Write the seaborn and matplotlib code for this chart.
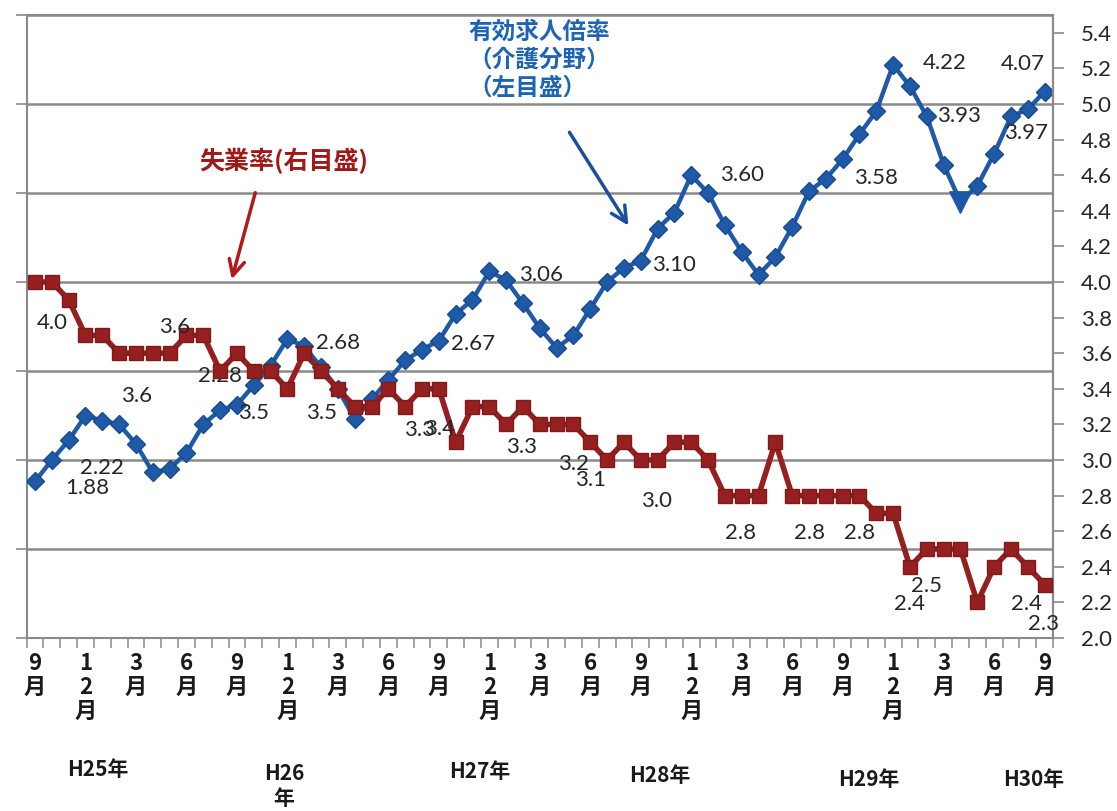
import numpy as np
import pandas as pd
import matplotlib
matplotlib.use("Agg")
import matplotlib.pyplot as plt
import seaborn as sns

# monthly data, 9月 H25 .. 9月 H30
months = list(range(61))
ratio = [1.88, 2.00, 2.11, 2.25, 2.22, 2.20, 2.09, 1.93, 1.95, 2.04,
         2.20, 2.28, 2.31, 2.42, 2.53, 2.68, 2.64, 2.52, 2.40, 2.23,
         2.34, 2.45, 2.56, 2.62, 2.67, 2.82, 2.90, 3.06, 3.01, 2.88,
         2.74, 2.63, 2.70, 2.85, 3.00, 3.08, 3.12, 3.30, 3.39, 3.60,
         3.50, 3.32, 3.17, 3.04, 3.14, 3.31, 3.51, 3.58, 3.69, 3.83,
         3.96, 4.22, 4.10, 3.93, 3.66, 3.45, 3.54, 3.72, 3.93, 3.97,
         4.07]
unemp = [4.0, 4.0, 3.9, 3.7, 3.7, 3.6, 3.6, 3.6, 3.6, 3.7,
         3.7, 3.5, 3.6, 3.5, 3.5, 3.4, 3.6, 3.5, 3.4, 3.3,
         3.3, 3.4, 3.3, 3.4, 3.4, 3.1, 3.3, 3.3, 3.2, 3.3,
         3.2, 3.2, 3.2, 3.1, 3.0, 3.1, 3.0, 3.0, 3.1, 3.1,
         3.0, 2.8, 2.8, 2.8, 3.1, 2.8, 2.8, 2.8, 2.8, 2.8,
         2.7, 2.7, 2.4, 2.5, 2.5, 2.5, 2.2, 2.4, 2.5, 2.4,
         2.3]
tick_labels = ["9月", "12月", "3月", "6月", "9月", "12月", "3月", "6月",
               "9月", "12月", "3月", "6月", "9月", "12月", "3月", "6月",
               "9月", "12月", "3月", "6月", "9月"]
year_labels = ["H25年", "H26\n年", "H27年", "H28年", "H29年", "H30年"]

# data labels: (index, text, dx px, dy px)
ratio_labels = [(0, "1.88", 52, -7), (3, "2.22", 16, -52), (12, "2.28", -17, 29),
                (15, "2.68", 51, -4), (24, "2.67", 34, -3), (27, "3.06", 52, -4),
                (36, "3.10", 33, -4), (39, "3.60", 51, 0), (48, "3.58", 33, -19),
                (51, "4.22", 52, 2), (53, "3.93", 32, 0), (59, "3.97", -2, -24),
                (60, "4.07", -22, 28)]
unemp_labels = [(0, "4.0", 17, -41), (9, "3.6", -12, 8), (6, "3.6", 1, -43),
                (13, "3.5", 0, -42), (17, "3.5", 0, -42), (22, "3.3", 14, -23),
                (23, "3.4", 17, -40), (29, "3.3", -1, -40), (32, "3.2", 0, -40),
                (33, "3.1", 0, -38), (37, "3.0", -1, -41), (42, "2.8", -1, -37),
                (46, "2.8", 1, -37), (49, "2.8", 0, -37), (52, "2.4", 0, -37),
                (53, "2.5", 0, -37), (59, "2.4", -1, -37), (60, "2.3", -1, -39)]
low_idx = 55

BLUE = "#1f5aa8"
BLUE_TXT = "#1e64b4"
RED = "#962020"
GRID = "#8a8a8a"
TXT = "#262626"
JP = ["Noto Sans CJK JP", "DejaVu Sans"]

sns.set_theme(style="white")
plt.rcParams["font.family"] = ["Lato", "Noto Sans CJK JP", "DejaVu Sans"]

df = pd.DataFrame({"month": months, "ratio": ratio, "unemp": unemp})

W, H = 1117, 811
fig = plt.figure(figsize=(W / 100, H / 100), dpi=100)
ax = fig.add_axes([26.6 / W, 1 - 638 / H, (1053 - 26.6) / W, 623 / H])
ax2 = ax.twinx()

keep = [m for m in months if m != low_idx]
sns.lineplot(data=df, x="month", y="ratio", ax=ax, color=BLUE, lw=3.2,
             marker="D", markersize=9.5, markeredgecolor="#174b8f",
             markeredgewidth=1, markevery=keep, zorder=3)
sns.scatterplot(data=df.iloc[[low_idx]], x="month", y="ratio", ax=ax,
                marker="v", s=230, color="#1c58a8", edgecolor="#1c58a8",
                zorder=4)
sns.lineplot(data=df, x="month", y="unemp", ax=ax2, color=RED, lw=4,
             marker="s", markersize=10.5, markeredgecolor="#7e1a1a",
             markeredgewidth=1, zorder=3)

# left axis (hidden labels)
ax.set_xlim(-0.5, 60.5)
ax.set_ylim(1.0, 4.5)
ax.set_yticks(np.arange(1.0, 4.51, 0.5))
ax.set_yticklabels([])
ax.grid(axis="y", color=GRID, lw=1.8)
ax.grid(axis="x", visible=False)
ax.tick_params(axis="y", left=True, length=8, width=1.2, color=GRID)

ax.set_xticks(months[::3])
ax.set_xticklabels(["\n".join(t) for t in tick_labels])
ax.set_xticks(np.arange(-0.5, 61, 1), minor=True)
ax.tick_params(axis="x", which="major", bottom=True, length=0, pad=10)
ax.tick_params(axis="x", which="minor", bottom=True, length=7, width=1.1,
               color=GRID)
for lbl in ax.get_xticklabels():
    lbl.set_fontfamily(JP)
    lbl.set_fontweight("bold")
    lbl.set_fontsize(16)
    lbl.set_linespacing(1.05)
    lbl.set_color("#1a1a1a")

# right axis
ax2.set_ylim(2.0, 5.5)
ax2.set_yticks(np.arange(2.0, 5.41, 0.2))
ax2.set_yticklabels([f"{v:.1f}" for v in np.arange(2.0, 5.41, 0.2)])
ax2.tick_params(axis="y", right=True, length=8, width=1.2, color=GRID,
                pad=12, labelsize=16, labelcolor=TXT)
ax2.grid(False)

for a in (ax, ax2):
    a.set_xlabel("")
    a.set_ylabel("")
    for s in a.spines.values():
        s.set_color(GRID)
        s.set_linewidth(1.5)
ax2.spines["left"].set_visible(False)
ax2.spines["top"].set_visible(False)
ax2.spines["bottom"].set_visible(False)

for i, t, dx, dy in ratio_labels:
    ax.annotate(t, (months[i], ratio[i]), xytext=(dx, dy),
                textcoords="offset pixels", ha="center", va="center",
                fontsize=16, color=TXT, zorder=5)
for i, t, dx, dy in unemp_labels:
    ax2.annotate(t, (months[i], unemp[i]), xytext=(dx, dy),
                 textcoords="offset pixels", ha="center", va="center",
                 fontsize=16, color=TXT, zorder=5)

# series captions and arrows
fig.text(468 / W, 1 - 60 / H, "有効求人倍率\n（介護分野）\n（左目盛）",
         ha="left", va="center", multialignment="left", fontsize=17,
         fontweight="bold", color=BLUE_TXT, family=JP, linespacing=1.2)
fig.text(284 / W, 1 - 161 / H, "失業率(右目盛)", ha="center", va="center",
         fontsize=18, fontweight="bold", color="#a01818", family=JP)
ax2.annotate("", xy=(231, H - 282), xycoords="figure pixels",
             xytext=(256, H - 190), textcoords="figure pixels",
             arrowprops=dict(arrowstyle="->", color="#b01a1a", lw=2.5,
                             mutation_scale=28), annotation_clip=False)
ax2.annotate("", xy=(630, H - 228), xycoords="figure pixels",
             xytext=(568, H - 130), textcoords="figure pixels",
             arrowprops=dict(arrowstyle="->", color="#1a4fa0", lw=2.5,
                             mutation_scale=28), annotation_clip=False)

# year captions under the month axis
year_x = [98, 284, 480, 660, 869, 1034]
year_y = [770, 786, 771, 776, 779, 780]
for t, x, y in zip(year_labels, year_x, year_y):
    fig.text(x / W, 1 - y / H, t, ha="center", va="center", fontsize=15,
             fontweight="bold", color="#1a1a1a", family=JP, linespacing=1.2)

fig.savefig("out.png", dpi=100)
